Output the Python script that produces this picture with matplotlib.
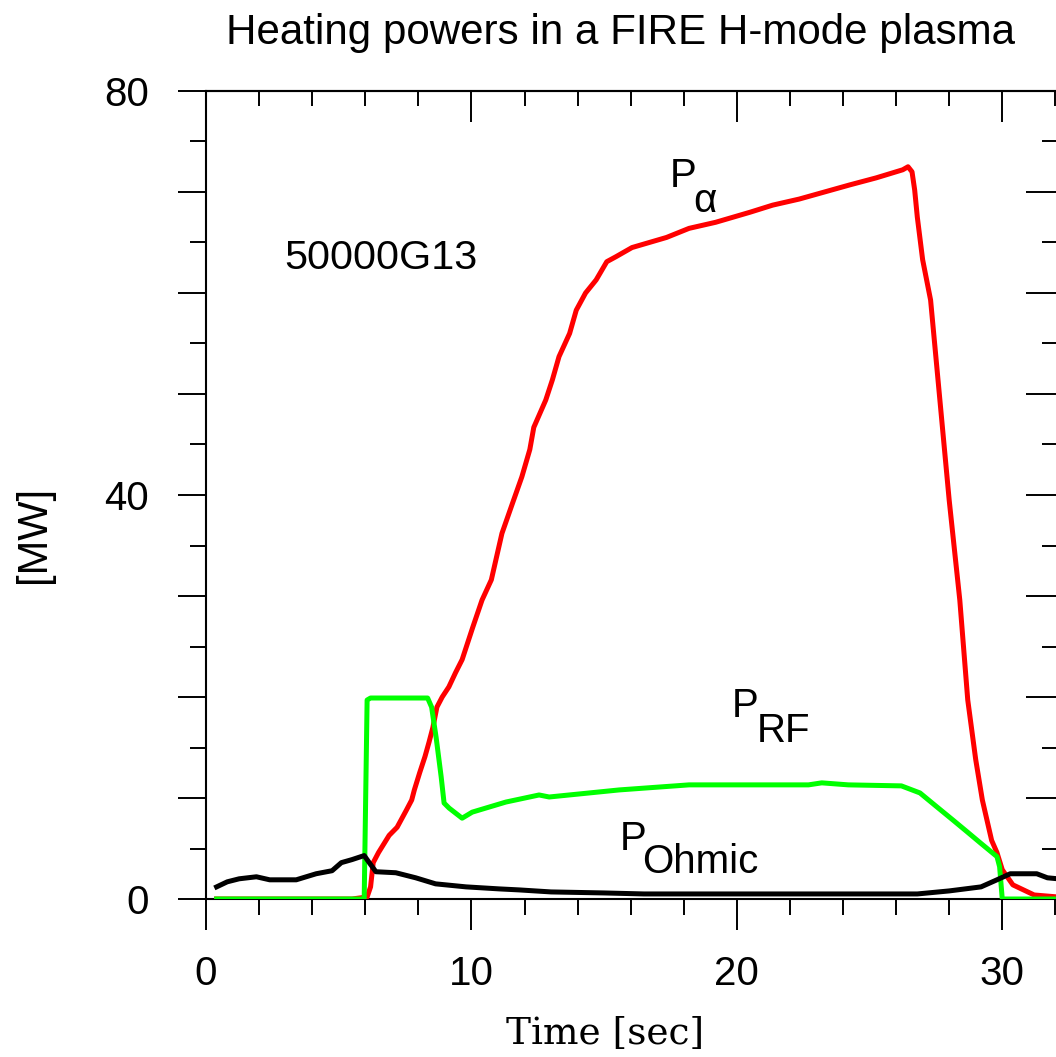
import matplotlib
matplotlib.use("Agg")
import matplotlib.pyplot as plt
from matplotlib.ticker import MultipleLocator

# P_alpha (red)
t_alpha = [0.4, 5.5, 6.07, 6.2, 6.3, 6.5, 6.9, 7.2, 7.55, 7.75, 7.85, 8.05, 8.25, 8.4, 8.55,
           8.7, 8.9, 9.15, 9.4, 9.65, 10.05, 10.4, 10.75, 11.15, 11.55, 11.9, 12.2, 12.35,
           12.8, 13.05, 13.3, 13.7, 13.95, 14.3, 14.7, 15.1, 15.45, 16.05, 17.35, 18.2,
           19.2, 20.5, 21.35, 22.35, 24.25, 25.25, 26.25, 26.45, 26.6, 26.7, 26.8, 27.0,
           27.3, 27.65, 28.0, 28.4, 28.7, 29.0, 29.25, 29.6, 29.8, 30.0, 30.4, 31.2, 32.1]
p_alpha = [0.0, 0.0, 0.2, 1.2, 3.6, 4.6, 6.3, 7.1, 8.8, 9.8, 10.8, 12.5, 14.1, 15.5, 17.0,
           19.0, 20.0, 21.0, 22.4, 23.7, 26.9, 29.6, 31.6, 36.2, 39.2, 41.8, 44.5, 46.7,
           49.4, 51.4, 53.7, 56.0, 58.3, 60.0, 61.3, 63.1, 63.6, 64.5, 65.5, 66.4,
           67.0, 68.0, 68.7, 69.3, 70.7, 71.4, 72.2, 72.5, 72.0, 70.2, 67.5, 63.3,
           59.3, 49.4, 39.5, 29.6, 19.7, 13.8, 9.8, 5.8, 4.6, 2.9, 1.4, 0.4, 0.2]

# P_RF (green)
t_rf = [0.4, 5.96, 6.07, 6.2, 8.35, 8.5, 8.67, 8.86, 8.97, 9.16, 9.65, 10.03, 11.3, 12.55,
        12.93, 15.57, 18.2, 22.7, 23.2, 24.2, 26.2, 26.9, 27.5, 28.15, 28.7, 29.2, 29.8,
        29.9, 30.0, 32.1]
p_rf = [0.0, 0.0, 19.7, 19.9, 19.9, 19.0, 16.0, 12.1, 9.5, 9.0, 8.0, 8.6, 9.6, 10.3,
        10.1, 10.8, 11.3, 11.3, 11.5, 11.3, 11.2, 10.5, 9.2, 7.8, 6.6, 5.5, 4.2,
        3.2, 0.0, 0.0]

# P_Ohmic (black)
t_ohm = [0.4, 0.8, 1.25, 1.9, 2.4, 3.4, 4.15, 4.75, 5.1, 5.5, 5.96, 6.15, 6.4, 7.15, 7.9,
         8.65, 9.8, 11.05, 11.8, 13.0, 15.0, 16.5, 22.4, 26.8, 28.0, 29.2, 29.8, 30.3,
         31.3, 31.7, 32.1]
p_ohm = [1.2, 1.7, 2.0, 2.2, 1.9, 1.9, 2.5, 2.8, 3.6, 3.9, 4.3, 3.6, 2.7, 2.6, 2.1,
         1.5, 1.2, 1.0, 0.9, 0.7, 0.6, 0.5, 0.5, 0.5, 0.8, 1.2, 1.9, 2.5,
         2.5, 2.1, 2.0]

sans = "Liberation Sans"
fs = 29

fig = plt.figure(figsize=(10.56, 10.57), dpi=100)
ax = fig.add_axes([206 / 1056, 1 - 899 / 1057, 852 / 1056, 808 / 1057])

ax.plot(t_alpha, p_alpha, color="#ff0000", lw=3.6, zorder=3)
ax.plot(t_rf, p_rf, color="#00ff00", lw=3.6, zorder=4)
ax.plot(t_ohm, p_ohm, color="black", lw=3.6, zorder=5)

ax.set_xlim(0, 32.1)
ax.set_ylim(0, 80)

for s in ax.spines.values():
    s.set_linewidth(1.5)

ax.set_xticks([0, 10, 20, 30], labels=["0", "10", "20", "30"])
ax.xaxis.set_minor_locator(MultipleLocator(2))
ax.set_yticks(range(0, 81, 10), labels=["0", "", "", "", "40", "", "", "", "80"])
ax.yaxis.set_minor_locator(MultipleLocator(5))
ax.tick_params(axis="x", which="major", direction="out", length=22.3, width=1.4, pad=18)
ax.tick_params(axis="x", which="minor", direction="out", length=11.5, width=1.4)
ax.tick_params(axis="y", which="major", direction="out", length=20, width=1.4, pad=21)
ax.tick_params(axis="y", which="minor", direction="out", length=11.5, width=1.4)
for lab in ax.get_xticklabels() + ax.get_yticklabels():
    lab.set_fontfamily(sans)
    lab.set_fontsize(fs)

top = ax.secondary_xaxis("top")
top.set_xticks([0, 10, 20, 30], labels=[])
top.xaxis.set_minor_locator(MultipleLocator(2))
top.tick_params(which="major", direction="in", length=22.3, width=1.4)
top.tick_params(which="minor", direction="in", length=11, width=1.4)
top.spines["top"].set_linewidth(1.5)

right = ax.secondary_yaxis("right")
right.set_yticks(range(0, 81, 10), labels=[])
right.yaxis.set_minor_locator(MultipleLocator(5))
right.tick_params(which="major", direction="in", length=23, width=1.4)
right.tick_params(which="minor", direction="in", length=11.5, width=1.4)

ax.text(17.47, 70.5, "P", fontsize=fs, family=sans)
ax.text(18.34, 68.0, "α", fontsize=fs, family=sans)
ax.text(19.8, 18.0, "P", fontsize=fs, family=sans)
ax.text(20.75, 15.5, "RF", fontsize=fs, family=sans)
ax.text(15.58, 4.85, "P", fontsize=fs, family=sans)
ax.text(16.45, 2.57, "Ohmic", fontsize=fs, family=sans)
ax.text(2.94, 62.4, "50000G13", fontsize=29.8, family=sans)

fig.text(0.588, 0.958, "Heating powers in a FIRE H-mode plasma", fontsize=30.3,
         family=sans, ha="center", va="baseline")
fig.text(0.032, 0.494, "[MW]", fontsize=30, family=sans, rotation=90,
         ha="center", va="center")
fig.text(0.573, 0.012, "Time [sec]", fontsize=27, family="DejaVu Serif",
         ha="center", va="baseline")

fig.savefig("out.png", dpi=100)
